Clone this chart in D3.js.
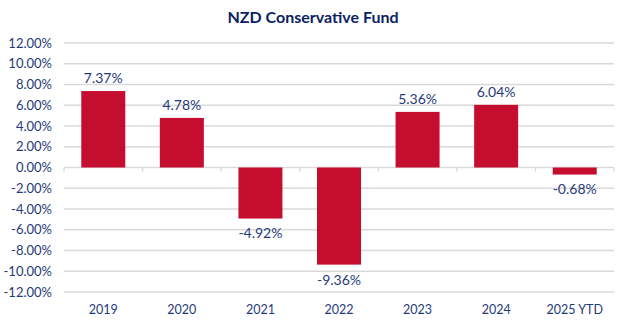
<!DOCTYPE html>
<html>
<head>
<meta charset="utf-8">
<script src="https://cdn.jsdelivr.net/npm/d3@7"></script>
<style>
  body { margin: 0; background: #fff; }
  text { font-family: Lato, "Open Sans", sans-serif; }
</style>
</head>
<body>
<script>
var years = ['2019', '2020', '2021', '2022', '2023', '2024', '2025 YTD'];
var returns = [7.37, 4.78, -4.92, -9.36, 5.36, 6.04, -0.68];
var yTicks = [12, 10, 8, 6, 4, 2, 0, -2, -4, -6, -8, -10, -12];

var width = 626, height = 324;
var plotLeft = 64, plotRight = 614, plotTop = 43, plotBottom = 292;

var svg = d3.select('body').append('svg')
    .attr('width', width)
    .attr('height', height);

var x = d3.scaleBand().domain(years).range([plotLeft, plotRight]).paddingInner(0.44).paddingOuter(0.22);
var xb = d3.scaleBand().domain(years).range([plotLeft, plotRight]);
var y = d3.scaleLinear().domain([-12, 12]).range([plotBottom, plotTop]);

svg.append('text')
  .attr('x', 313).attr('y', 23)
  .attr('text-anchor', 'middle')
  .style('font-size', '16px').style('font-weight', 'bold')
  .attr('fill', '#0b2265')
  .text('NZD Conservative Fund');

// gridlines
svg.append('g').selectAll('line')
  .data(yTicks).enter().append('line')
    .attr('x1', plotLeft).attr('x2', plotRight)
    .attr('y1', function(d) { return y(d); })
    .attr('y2', function(d) { return y(d); })
    .attr('stroke', '#d9d9d9').attr('stroke-width', 1.3);

// y tick labels
svg.append('g').selectAll('text')
  .data(yTicks).enter().append('text')
    .attr('x', 52).attr('y', function(d) { return y(d); })
    .attr('dy', '0.35em')
    .attr('text-anchor', 'end')
    .attr('fill', '#1f3a7a')
    .style('font-size', '13px')
    .text(function(d) { return d.toFixed(2) + '%'; });

// category tick marks on zero line
svg.append('g').selectAll('line')
  .data(years.concat(['end'])).enter().append('line')
    .attr('x1', function(d, i) { return i < years.length ? xb(d) : plotRight; })
    .attr('x2', function(d, i) { return i < years.length ? xb(d) : plotRight; })
    .attr('y1', y(0)).attr('y2', y(0) + 4)
    .attr('stroke', '#d9d9d9').attr('stroke-width', 1.3);

// bars
svg.append('g').selectAll('rect')
  .data(returns).enter().append('rect')
    .attr('x', function(d, i) { return x(years[i]); })
    .attr('width', x.bandwidth())
    .attr('y', function(d) { return y(Math.max(0, d)); })
    .attr('height', function(d) { return Math.abs(y(d) - y(0)); })
    .attr('fill', '#c50d30');

// data labels
svg.append('g').selectAll('text')
  .data(returns).enter().append('text')
    .attr('x', function(d, i) { return x(years[i]) + x.bandwidth() / 2; })
    .attr('y', function(d) { return d >= 0 ? y(d) - 13 : y(d) + 15; })
    .attr('dy', '0.35em')
    .attr('text-anchor', 'middle')
    .attr('fill', '#1f3a7a')
    .style('font-size', '14px')
    .text(function(d) { return d.toFixed(2) + '%'; });

// x labels
svg.append('g').selectAll('text')
  .data(years).enter().append('text')
    .attr('x', function(d) { return xb(d) + xb.bandwidth() / 2; })
    .attr('y', 310)
    .attr('dy', '0.35em')
    .attr('text-anchor', 'middle')
    .attr('fill', '#1f3a7a')
    .style('font-size', '12.5px')
    .text(function(d) { return d; });
</script>
</body>
</html>
